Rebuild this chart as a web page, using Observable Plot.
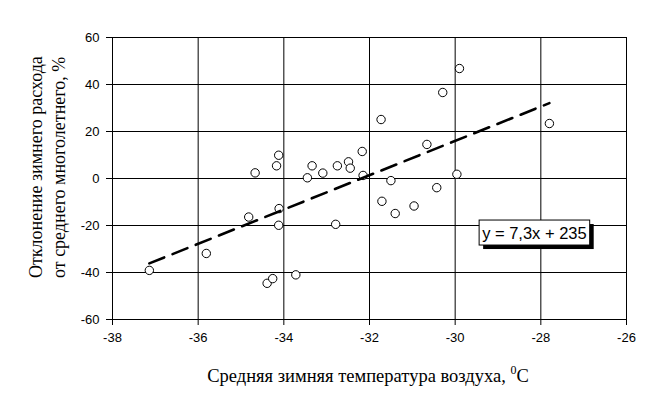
<!DOCTYPE html>
<html><head><meta charset="utf-8">
<script src="https://cdn.jsdelivr.net/npm/d3@7"></script>
<script src="https://cdn.jsdelivr.net/npm/@observablehq/plot@0.6"></script>
<style>body{margin:0;background:#fff;} #chart svg{display:block;}</style>
</head><body><div id="chart"></div>
<script>
// Средняя зимняя температура воздуха, °C
const temperature = [-34.67, -34.12, -34.17, -33.34, -33.45, -33.09, -32.75, -32.49, -32.45, -32.17,
  -32.15, -31.50, -31.71, -31.40, -30.96, -30.66, -34.11, -34.82, -34.12, -32.79,
  -37.14, -35.81, -34.39, -34.26, -33.72, -29.90, -30.29, -31.73, -27.80, -29.96, -30.43];
// Отклонение зимнего расхода от среднего многолетнего, %
const deviation = [2.4, 9.9, 5.4, 5.4, 0.3, 2.3, 5.4, 7.1, 4.4, 11.5,
  1.3, -0.9, -9.7, -14.9, -11.7, 14.5, -12.8, -16.4, -19.9, -19.5,
  -39.1, -31.9, -44.6, -42.6, -41.0, 46.8, 36.6, 25.1, 23.4, 1.8, -3.9];
const xTicks = [-38, -36, -34, -32, -30, -28, -26];
const yTicks = [-60, -40, -20, 0, 20, 40, 60];
const slope = 7.3, intercept = 235;
const equationLabel = "y = 7,3x + 235";
const xTitle = "Средняя зимняя температура воздуха, ";
const xTitleSup = "0";
const xTitleUnit = "C";
const yTitleLines = ["Отклонение зимнего расхода", "от среднего многолетнего, %"];

const points = temperature.map((t, i) => ({t, d: deviation[i]}));
const trend = d3.extent(temperature).map(t => ({t, d: slope * t + intercept}));
const fmt = d => String(d);

const plot = Plot.plot({
  width: 654, height: 397,
  marginLeft: 112, marginRight: 28, marginTop: 37, marginBottom: 78,
  style: {fontFamily: "'Liberation Sans', Arial, sans-serif", fontSize: "13px", color: "black", background: "white"},
  x: {domain: [-38, -26]},
  y: {domain: [-60, 60]},
  marks: [
    Plot.gridX(xTicks, {stroke: "black", strokeOpacity: 1, strokeWidth: 1}),
    Plot.gridY(yTicks, {stroke: "black", strokeOpacity: 1, strokeWidth: 1}),
    Plot.frame({stroke: "black", strokeWidth: 1}),
    Plot.axisX(xTicks, {tickSize: 6, tickPadding: 7, label: null, fontSize: 13, tickFormat: fmt}),
    Plot.axisY(yTicks, {tickSize: 6, tickPadding: 7, label: null, fontSize: 13, tickFormat: fmt}),
    Plot.dot(points, {x: "t", y: "d", r: 4.2, stroke: "black", fill: "white", strokeWidth: 1}),
    Plot.line(trend, {x: "t", y: "d", stroke: "black", strokeWidth: 2.6, strokeDasharray: "16 9"}),
    Plot.text([equationLabel], {x: -28.15, y: -23.3, text: d => d, fontSize: 16.5, fill: "black"})
  ]
});
document.getElementById("chart").appendChild(plot);

const svg = d3.select(plot);
// equation box with shadow
svg.selectAll("text").filter(function() { return this.textContent === equationLabel; }).each(function() {
  const b = this.getBBox();
  const tf = this.getAttribute("transform") || null;
  const padX = 3, padY = 3.5;
  const x0 = b.x - padX, y0 = b.y - padY, w = b.width + 2 * padX, h = b.height + 2 * padY;
  const parent = d3.select(this.parentNode);
  const me = this;
  parent.insert("rect", () => me).attr("transform", tf).attr("x", x0 + 4).attr("y", y0 + 4)
    .attr("width", w).attr("height", h).attr("fill", "black").attr("stroke", "none");
  parent.insert("rect", () => me).attr("transform", tf).attr("x", x0).attr("y", y0)
    .attr("width", w).attr("height", h).attr("fill", "white").attr("stroke", "black").attr("stroke-width", 1);
});

// x title
const xt = svg.append("text").attr("x", 368).attr("y", 382).attr("text-anchor", "middle")
  .attr("font-family", "'Liberation Serif', 'Times New Roman', serif").attr("font-size", 18.5).attr("fill", "black");
xt.append("tspan").text(xTitle);
xt.append("tspan").attr("dy", -8).attr("font-size", 12).text(xTitleSup);
xt.append("tspan").attr("dy", 8).text(xTitleUnit);

// y title
const yt = svg.append("text").attr("transform", "translate(42,278) rotate(-90)").attr("text-anchor", "start")
  .attr("font-family", "'Liberation Serif', 'Times New Roman', serif").attr("font-size", 18).attr("fill", "black");
yTitleLines.forEach((line, i) => yt.append("tspan").attr("x", 0).attr("dy", i === 0 ? 0 : 23).text(line));
</script></body></html>
